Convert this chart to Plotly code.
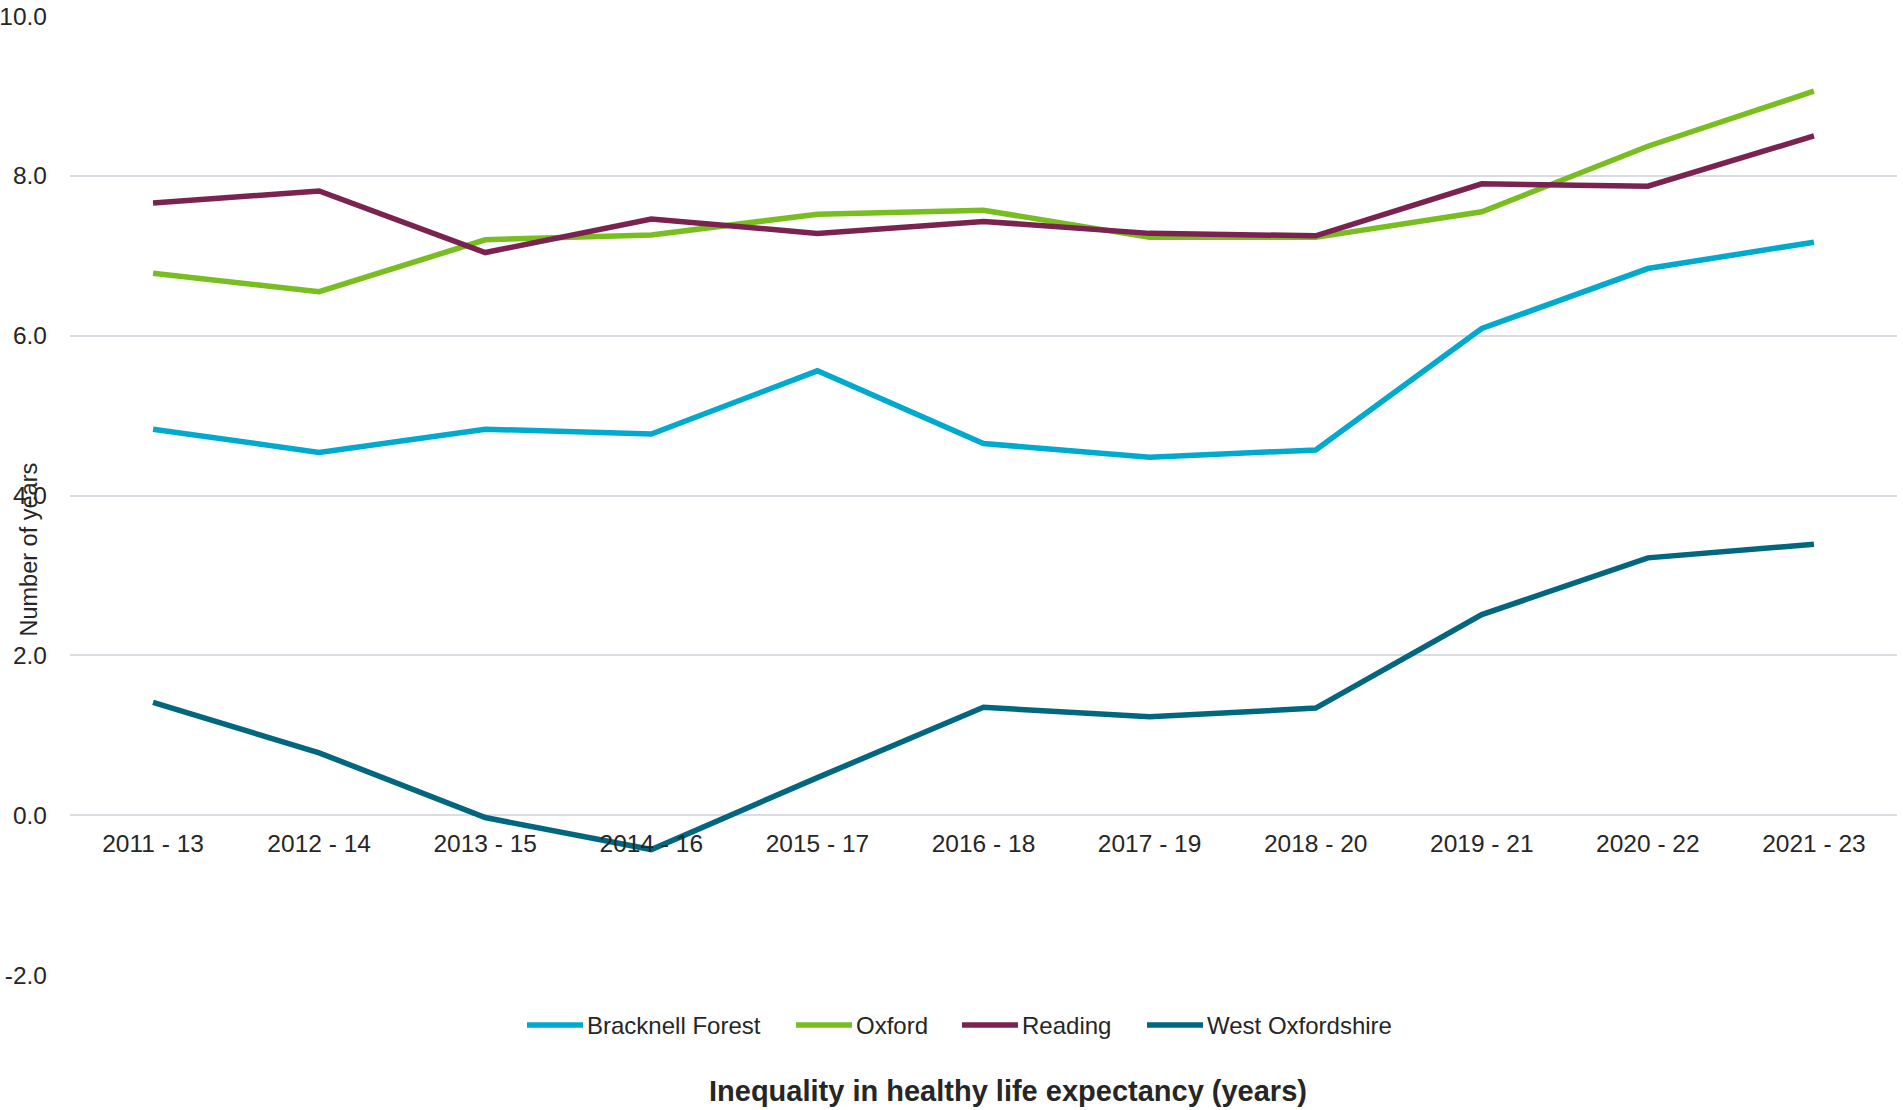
import plotly.graph_objects as go

periods = ["2011 - 13", "2012 - 14", "2013 - 15", "2014 - 16", "2015 - 17", "2016 - 18",
           "2017 - 19", "2018 - 20", "2019 - 21", "2020 - 22", "2021 - 23"]

bracknell_forest = [4.83, 4.54, 4.83, 4.77, 5.56, 4.65, 4.48, 4.57, 6.09, 6.84, 7.17]
oxford = [6.78, 6.55, 7.20, 7.26, 7.52, 7.57, 7.23, 7.23, 7.55, 8.37, 9.06]
reading = [7.66, 7.81, 7.04, 7.46, 7.28, 7.43, 7.28, 7.25, 7.90, 7.87, 8.50]
west_oxfordshire = [1.41, 0.78, -0.03, -0.43, 0.47, 1.35, 1.23, 1.34, 2.51, 3.22, 3.39]

y_tick_values = [-2, 0, 2, 4, 6, 8, 10]
y_tick_labels = ["-2.0", "0.0", "2.0", "4.0", "6.0", "8.0", "10.0"]

series_names = ["Bracknell Forest", "Oxford", "Reading", "West Oxfordshire"]
series_values = [bracknell_forest, oxford, reading, west_oxfordshire]
series_colors = ["#00A9CE", "#78BE20", "#7A2350", "#00677F"]

FONT = "Arial, Liberation Sans, sans-serif"
TXT = "#262626"

W, H = 1903, 1110
ml, mr, mt, mb = 70, 6, 16, 135
pw, ph = W - ml - mr, H - mt - mb


def px_x(x):
    return (x - ml) / pw


def px_y(y):
    return (H - mb - y) / ph


fig = go.Figure()
for name, vals, col in zip(series_names, series_values, series_colors):
    fig.add_trace(go.Scatter(x=periods, y=vals, name=name, mode="lines",
                             line=dict(color=col, width=5.5), showlegend=False))

# manual legend (swatch start x in px for each entry)
legend_swatch_start = [527, 796, 962, 1147]
legend_y = 1025
shapes = []
annotations = []
for name, col, sx in zip(series_names, series_colors, legend_swatch_start):
    shapes.append(dict(type="line", xref="paper", yref="paper",
                       x0=px_x(sx), x1=px_x(sx + 56), y0=px_y(legend_y), y1=px_y(legend_y),
                       line=dict(color=col, width=5.5)))
    annotations.append(dict(text=name, xref="paper", yref="paper",
                            x=px_x(sx + 58), y=px_y(legend_y), xanchor="left", yanchor="middle",
                            showarrow=False, font=dict(size=24, color=TXT, family=FONT)))

annotations.append(dict(text="<b>Inequality in healthy life expectancy (years)</b>",
                        xref="paper", yref="paper", x=px_x(1008), y=px_y(1091),
                        xanchor="center", yanchor="middle", showarrow=False,
                        font=dict(size=29, color=TXT, family=FONT)))
annotations.append(dict(text="Number of years", xref="paper", yref="paper",
                        x=px_x(29), y=px_y(549.5), xanchor="center", yanchor="middle",
                        textangle=-90, showarrow=False,
                        font=dict(size=23.5, color=TXT, family=FONT)))

fig.update_layout(
    width=W, height=H,
    margin=dict(l=ml, r=mr, t=mt, b=mb, pad=0, autoexpand=False),
    paper_bgcolor="white", plot_bgcolor="white",
    font=dict(family=FONT, size=24, color=TXT),
    showlegend=False,
    xaxis=dict(type="category", range=[-0.5, 10.5], showgrid=False,
               showline=False, zeroline=False, ticks="", automargin=False,
               anchor="free", position=1/6,
               tickfont=dict(size=24.5, color=TXT), ticklabelstandoff=11),
    yaxis=dict(range=[-2, 10], tickmode="array", tickvals=y_tick_values, ticktext=y_tick_labels,
               showgrid=True, gridcolor="#D9DDE2", gridwidth=2, automargin=False,
               zeroline=False, showline=False, ticks="",
               tickfont=dict(size=24.5, color=TXT), ticklabelstandoff=22),
    shapes=shapes,
    annotations=annotations,
)

fig.write_html("out.html")
